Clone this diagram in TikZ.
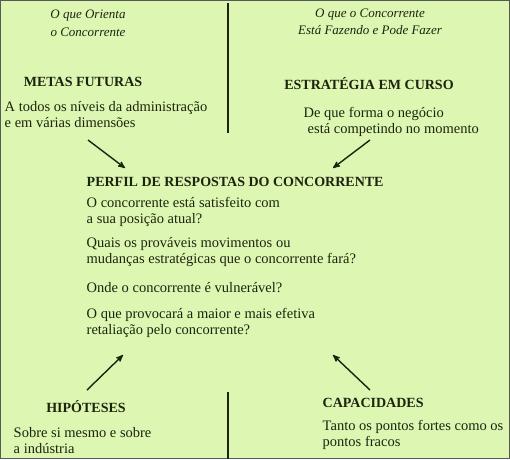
\documentclass[tikz,border=0pt]{standalone}
\usepackage{fontspec}
\setmainfont{Liberation Serif}
\usetikzlibrary{arrows}
\definecolor{paper}{RGB}{221,246,178}
\definecolor{ink}{RGB}{28,36,14}

\begin{document}
\begin{tikzpicture}[x=1pt,y=-1pt,>=stealth',line width=1.4pt,every node/.style={inner sep=0pt,text=ink},
  guide/.style={anchor=base,align=center,font=\fontsize{13}{18}\selectfont\itshape},
  title/.style={anchor=base,font=\fontsize{14}{16}\selectfont\bfseries},
  body/.style={anchor=base west,align=left,font=\fontsize{14.5}{16}\selectfont}]
  \fill[paper] (0,0) rectangle (510,459);
  \useasboundingbox (0,0) rectangle (510,459);
  \draw[line width=1pt,black!65] (0.5,0.5) rectangle (509.5,458.5);
  % cabecalhos (base = ultima linha)
  \node[guide]  (orienta)  at (88,36)  {O que Orienta \\ o Concorrente};
  \node[guide,font=\fontsize{13}{17}\selectfont\itshape]  (fazendo)  at (370,34) {O que o Concorrente \\ Está Fazendo e Pode Fazer};
  \draw[ink] (228,3) -- (228,133);
  \draw[ink] (228,392) -- (228,459);
  % blocos
  \node[title]  (metas)    at (83,86)   {METAS FUTURAS};
  \node[body]   (metasd)   at (4,127)   {A todos os níveis da administração \\ e em várias dimensões};
  \node[title]  (estrat)   at (369,89)  {ESTRATÉGIA EM CURSO};
  \node[body]   (estratd)  at (303,133) {De que forma o negócio \\ \hspace{4pt}está competindo no momento};
  \node[title,anchor=base west] (perfil) at (86,186) {PERFIL DE RESPOSTAS DO CONCORRENTE};
  \node[body]   (q1)  at (86,223) {O concorrente está satisfeito com \\ a sua posição atual?};
  \node[body]   (q2)  at (86,263) {Quais os prováveis movimentos ou \\ mudanças estratégicas que o concorrente fará?};
  \node[body]   (q3)  at (86,292) {Onde o concorrente é vulnerável?};
  \node[body]   (q4)  at (86,334) {O que provocará a maior e mais efetiva \\ retaliação pelo concorrente?};
  \node[title]  (hipot)    at (86,412)  {HIPÓTESES};
  \node[body]   (hipotd)   at (13,453)  {Sobre si mesmo e sobre \\ a indústria};
  \node[title,anchor=base west] (capac) at (322,407) {CAPACIDADES};
  \node[body]   (capacd)   at (322,446) {Tanto os pontos fortes como os \\ pontos fracos};
  % setas
  \coordinate (a1) at (88,140);  \coordinate (b1) at (125,168);
  \coordinate (a2) at (370,140); \coordinate (b2) at (333,168);
  \coordinate (a3) at (87,390);  \coordinate (b3) at (123,355);
  \coordinate (a4) at (370,390); \coordinate (b4) at (333,355);
  \draw[->,ink] (a1) -- (b1);
  \draw[->,ink] (a2) -- (b2);
  \draw[->,ink] (a3) -- (b3);
  \draw[->,ink] (a4) -- (b4);
\end{tikzpicture}
\end{document}
